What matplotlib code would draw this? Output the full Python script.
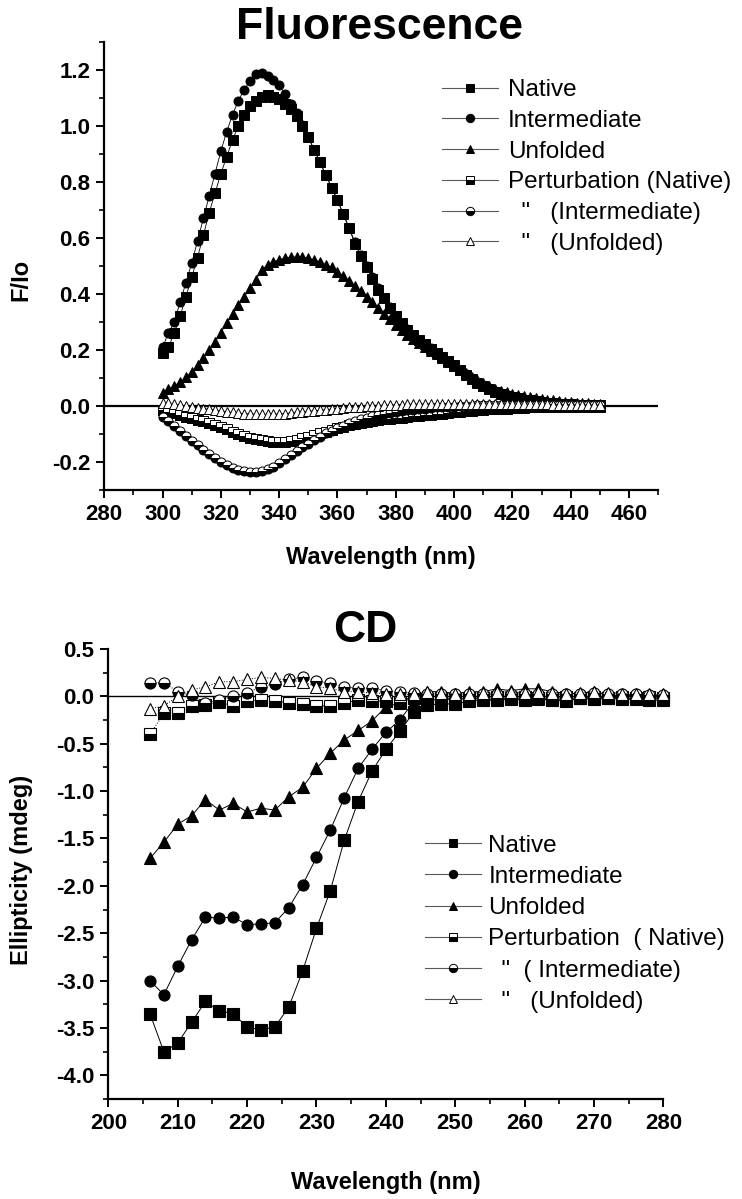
import numpy as np
import matplotlib
matplotlib.use("Agg")
import matplotlib.pyplot as plt
from matplotlib.lines import Line2D
from matplotlib.ticker import MultipleLocator, FormatStrFormatter

plt.rcParams['font.family'] = ['Liberation Sans', 'DejaVu Sans']

# ---------------- Fluorescence data (F/Io, every 2 nm) ----------------
wl_fl = np.arange(300, 452, 2)

fl_native = [0.19, 0.21, 0.26, 0.32, 0.39, 0.46, 0.53, 0.61, 0.69, 0.76,
             0.83, 0.89, 0.95, 1.00, 1.04, 1.07, 1.09, 1.105, 1.11, 1.105,
             1.095, 1.08, 1.06, 1.035, 1.00, 0.96, 0.915, 0.87, 0.825, 0.78,
             0.735, 0.685, 0.635, 0.58, 0.535, 0.495, 0.455, 0.415, 0.385, 0.35,
             0.32, 0.295, 0.272, 0.252, 0.235, 0.22, 0.205, 0.19, 0.175, 0.16,
             0.145, 0.128, 0.112, 0.097, 0.083, 0.07, 0.059, 0.05, 0.042, 0.036,
             0.031, 0.027, 0.023, 0.02, 0.017, 0.014, 0.012, 0.01, 0.008, 0.007,
             0.006, 0.005, 0.004, 0.004, 0.003, 0.003]
fl_inter = [0.21, 0.26, 0.30, 0.37, 0.44, 0.51, 0.59, 0.67, 0.75, 0.83,
            0.91, 0.98, 1.04, 1.09, 1.13, 1.16, 1.185, 1.19, 1.18, 1.165,
            1.145, 1.115, 1.08, 1.045, 1.005, 0.96, 0.915, 0.87, 0.825, 0.78,
            0.735, 0.685, 0.635, 0.585, 0.54, 0.50, 0.46, 0.42, 0.385, 0.352,
            0.322, 0.297, 0.274, 0.254, 0.237, 0.221, 0.206, 0.191, 0.176, 0.161,
            0.146, 0.129, 0.113, 0.098, 0.084, 0.071, 0.06, 0.051, 0.043, 0.037,
            0.032, 0.028, 0.024, 0.021, 0.018, 0.015, 0.013, 0.011, 0.009, 0.008,
            0.007, 0.006, 0.005, 0.004, 0.004, 0.003]
fl_unfold = [0.048, 0.06, 0.072, 0.086, 0.102, 0.122, 0.146, 0.172, 0.20, 0.23,
             0.262, 0.295, 0.328, 0.36, 0.39, 0.42, 0.45, 0.485, 0.505, 0.515,
             0.522, 0.528, 0.531, 0.533, 0.532, 0.528, 0.522, 0.515, 0.505, 0.495,
             0.48, 0.465, 0.448, 0.43, 0.41, 0.39, 0.37, 0.35, 0.33, 0.31,
             0.29, 0.272, 0.255, 0.24, 0.226, 0.212, 0.198, 0.185, 0.172, 0.158,
             0.144, 0.13, 0.117, 0.104, 0.092, 0.081, 0.071, 0.062, 0.055, 0.049,
             0.044, 0.04, 0.036, 0.032, 0.029, 0.026, 0.023, 0.02, 0.018, 0.016,
             0.014, 0.012, 0.01, 0.009, 0.008, 0.007]
fl_p_native = [-0.014, -0.02, -0.026, -0.032, -0.038, -0.044, -0.049, -0.055, -0.061, -0.068,
               -0.075, -0.083, -0.091, -0.099, -0.107, -0.114, -0.119, -0.123, -0.126, -0.128,
               -0.128, -0.127, -0.124, -0.12, -0.115, -0.109, -0.103, -0.097, -0.091, -0.085,
               -0.079, -0.074, -0.069, -0.065, -0.061, -0.057, -0.054, -0.051, -0.048, -0.045,
               -0.043, -0.041, -0.039, -0.037, -0.035, -0.033, -0.031, -0.029, -0.027, -0.025,
               -0.023, -0.021, -0.019, -0.017, -0.015, -0.013, -0.012, -0.011, -0.01, -0.009,
               -0.008, -0.007, -0.006, -0.005, -0.005, -0.004, -0.004, -0.004, -0.003, -0.003,
               -0.003, -0.003, -0.002, -0.002, -0.002, -0.002]
fl_p_inter = [-0.04, -0.055, -0.072, -0.09, -0.108, -0.124, -0.14, -0.156, -0.172, -0.187,
              -0.20, -0.211, -0.221, -0.228, -0.233, -0.235, -0.235, -0.232, -0.226, -0.216,
              -0.204, -0.19, -0.176, -0.162, -0.148, -0.134, -0.121, -0.109, -0.098, -0.088,
              -0.079, -0.07, -0.062, -0.055, -0.048, -0.042, -0.037, -0.032, -0.028, -0.024,
              -0.021, -0.018, -0.015, -0.013, -0.011, -0.009, -0.007, -0.005, -0.004, -0.003,
              -0.002, -0.001, 0.0, 0.001, 0.002, 0.003, 0.004, 0.004, 0.004, 0.004,
              0.004, 0.004, 0.004, 0.004, 0.004, 0.004, 0.003, 0.003, 0.003, 0.003,
              0.003, 0.003, 0.003, 0.002, 0.002, 0.002]
fl_p_unfold = [0.012, 0.009, 0.006, 0.003, 0.0, -0.003, -0.006, -0.009, -0.012, -0.015,
               -0.018, -0.021, -0.023, -0.025, -0.027, -0.028, -0.029, -0.03, -0.03, -0.029,
               -0.028, -0.027, -0.025, -0.023, -0.021, -0.019, -0.017, -0.015, -0.013, -0.011,
               -0.009, -0.007, -0.005, -0.004, -0.002, -0.001, 0.0, 0.001, 0.002, 0.003,
               0.004, 0.005, 0.006, 0.007, 0.007, 0.008, 0.008, 0.008, 0.008, 0.008,
               0.008, 0.008, 0.008, 0.008, 0.008, 0.008, 0.008, 0.008, 0.008, 0.008,
               0.008, 0.007, 0.007, 0.007, 0.006, 0.006, 0.006, 0.005, 0.005, 0.005,
               0.005, 0.004, 0.004, 0.004, 0.004, 0.004]

# ---------------- CD data (mdeg, every 2 nm) ----------------
wl_cd = np.arange(206, 282, 2)

cd_native = [-3.35, -3.75, -3.66, -3.44, -3.22, -3.32, -3.35, -3.49, -3.52, -3.49,
             -3.28, -2.90, -2.45, -2.05, -1.52, -1.11, -0.79, -0.56, -0.37, -0.17,
             -0.09, -0.08, -0.08, -0.05, -0.04, -0.04, -0.03, -0.04, -0.03, -0.04,
             -0.05, -0.02, -0.03, -0.02, -0.03, -0.03, -0.04, -0.04]
cd_inter = [-3.00, -3.15, -2.85, -2.57, -2.33, -2.34, -2.33, -2.41, -2.40, -2.39,
            -2.23, -1.99, -1.70, -1.41, -1.07, -0.76, -0.56, -0.38, -0.25, -0.06,
            -0.04, -0.03, -0.03, -0.02, -0.03, -0.03, -0.02, -0.03, -0.02, -0.03,
            -0.03, -0.02, -0.02, -0.01, -0.02, -0.02, -0.03, -0.02]
cd_unfold = [-1.71, -1.54, -1.35, -1.26, -1.09, -1.20, -1.13, -1.22, -1.18, -1.20,
             -1.06, -0.96, -0.76, -0.60, -0.46, -0.36, -0.26, -0.11, -0.07, 0.01,
             0.05, 0.05, 0.03, 0.05, 0.05, 0.08, 0.06, 0.08, 0.08, 0.05,
             0.03, 0.03, 0.05, 0.01, 0.01, 0.01, 0.01, 0.01]
cd_p_native = [-0.40, -0.18, -0.18, -0.10, -0.09, -0.06, -0.10, -0.05, -0.04, -0.05,
               -0.07, -0.08, -0.10, -0.10, -0.07, -0.04, -0.05, -0.05, -0.06, -0.02,
               -0.03, -0.02, -0.03, -0.02, -0.02, -0.01, -0.02, -0.01, -0.02, -0.02,
               -0.01, -0.02, -0.01, -0.02, -0.01, -0.02, -0.01, -0.02]
cd_p_inter = [0.145, 0.145, 0.05, 0.01, -0.07, -0.04, 0.00, 0.04, 0.10, 0.13,
              0.18, 0.20, 0.16, 0.14, 0.10, 0.09, 0.09, 0.06, 0.05, 0.035,
              0.03, 0.02, 0.02, 0.03, 0.02, 0.03, 0.02, 0.03, 0.03, 0.02,
              0.02, 0.03, 0.04, 0.03, 0.02, 0.02, 0.01, 0.01]
cd_p_unfold = [-0.13, -0.10, 0.00, 0.07, 0.10, 0.155, 0.155, 0.18, 0.20, 0.19,
               0.17, 0.155, 0.10, 0.09, 0.05, 0.05, 0.035, 0.03, 0.02, 0.02,
               0.05, 0.04, 0.03, 0.03, 0.04, 0.05, 0.05, 0.04, 0.05, 0.04,
               0.03, 0.04, 0.05, 0.04, 0.03, 0.03, 0.02, 0.02]

fl_labels = ['Native', 'Intermediate', 'Unfolded', 'Perturbation (Native)',
             '  "   (Intermediate)', '  "   (Unfolded)']
cd_labels = ['Native', 'Intermediate', 'Unfolded', 'Perturbation  ( Native)',
             '  "  ( Intermediate)', '  "   (Unfolded)']

# marker styles for the six series
styles = [dict(marker='s', mfc='black', mec='black'),
          dict(marker='o', mfc='black', mec='black'),
          dict(marker='^', mfc='black', mec='black'),
          dict(marker='s', mfc='black', mec='black', fillstyle='bottom', markerfacecoloralt='white'),
          dict(marker='o', mfc='black', mec='black', fillstyle='bottom', markerfacecoloralt='white'),
          dict(marker='^', mfc='white', mec='black')]


def style_axes(ax):
    for s in ['top', 'right']:
        ax.spines[s].set_visible(False)
    for s in ['left', 'bottom']:
        ax.spines[s].set_linewidth(1.6)
    ax.tick_params(which='major', direction='out', length=6, width=1.4, labelsize=16, pad=4)
    ax.tick_params(which='minor', direction='out', length=3.5, width=1.2)
    for lab in ax.get_xticklabels() + ax.get_yticklabels():
        lab.set_fontweight('bold')


fig = plt.figure(figsize=(7.42, 11.99), dpi=100)

# ---------------- Fluorescence ----------------
ax1 = fig.add_axes([0.1405, 0.5913, 0.7465, 0.3737])
fl_series = [fl_native, fl_inter, fl_unfold, fl_p_native, fl_p_inter, fl_p_unfold]
for vals, st in zip(fl_series, styles):
    ax1.plot(wl_fl, vals, color='black', lw=0.6, ms=6.5, mew=0.7, zorder=3, **st)
ax1.axhline(0, color='black', lw=1.6, zorder=1)
ax1.set_xlim(280, 470)
ax1.set_ylim(-0.3, 1.3)
ax1.set_xticks(np.arange(280, 461, 20))
ax1.set_yticks([-0.2, 0.0, 0.2, 0.4, 0.6, 0.8, 1.0, 1.2])
ax1.xaxis.set_minor_locator(MultipleLocator(10))
ax1.yaxis.set_minor_locator(MultipleLocator(0.1))
ax1.yaxis.set_major_formatter(FormatStrFormatter('%.1f'))
style_axes(ax1)
ax1.set_xlabel('Wavelength (nm)', fontsize=17, fontweight='bold')
ax1.xaxis.set_label_coords(0.5, -0.125)
ax1.set_ylabel('F/Io', fontsize=17, fontweight='bold')
ax1.yaxis.set_label_coords(-0.13, 0.47)

# ---------------- CD ----------------
ax2 = fig.add_axes([0.146, 0.0834, 0.748, 0.3753])
cd_series = [cd_native, cd_inter, cd_unfold, cd_p_native, cd_p_inter, cd_p_unfold]
for i, (vals, st) in enumerate(zip(cd_series, styles)):
    ls = '-' if i < 3 else ':'
    ax2.plot(wl_cd, vals, color='black', lw=0.7, ls=ls, ms=8, mew=0.8,
             zorder=3, clip_on=False, **st)
ax2.axhline(0, color='black', lw=1.0, zorder=1)
ax2.set_xlim(200, 280)
ax2.set_ylim(-4.25, 0.5)
ax2.set_xticks(np.arange(200, 281, 10))
ax2.set_yticks(np.arange(-4.0, 0.51, 0.5))
ax2.xaxis.set_minor_locator(MultipleLocator(5))
ax2.yaxis.set_minor_locator(MultipleLocator(0.25))
ax2.yaxis.set_major_formatter(FormatStrFormatter('%.1f'))
style_axes(ax2)
ax2.set_xlabel('Wavelength (nm)', fontsize=17, fontweight='bold')
ax2.xaxis.set_label_coords(0.5, -0.16)
ax2.set_ylabel('Ellipticity (mdeg)', fontsize=17, fontweight='bold')
ax2.yaxis.set_label_coords(-0.135, 0.509)

# titles
fig.text(0.511, 0.977, 'Fluorescence', ha='center', va='center', fontsize=32, fontweight='bold')
fig.text(0.492, 0.474, 'CD', ha='center', va='center', fontsize=32, fontweight='bold')

# legends (thin grey line through a small marker)
def make_handles():
    hs = []
    for st in styles:
        hs.append(Line2D([], [], color='0.35', lw=0.8, ms=6, mew=0.7, **st))
    return hs

fig.legend(make_handles(), fl_labels, loc='upper left', bbox_to_anchor=(0.596, 0.934),
           frameon=False, fontsize=17.5, handlelength=2.3, handletextpad=0.4,
           labelspacing=0.36, borderpad=0, borderaxespad=0)
fig.legend(make_handles(), cd_labels, loc='upper left', bbox_to_anchor=(0.573, 0.304),
           frameon=False, fontsize=17.5, handlelength=2.3, handletextpad=0.3,
           labelspacing=0.38, borderpad=0, borderaxespad=0)

fig.savefig('out.png', dpi=100)
